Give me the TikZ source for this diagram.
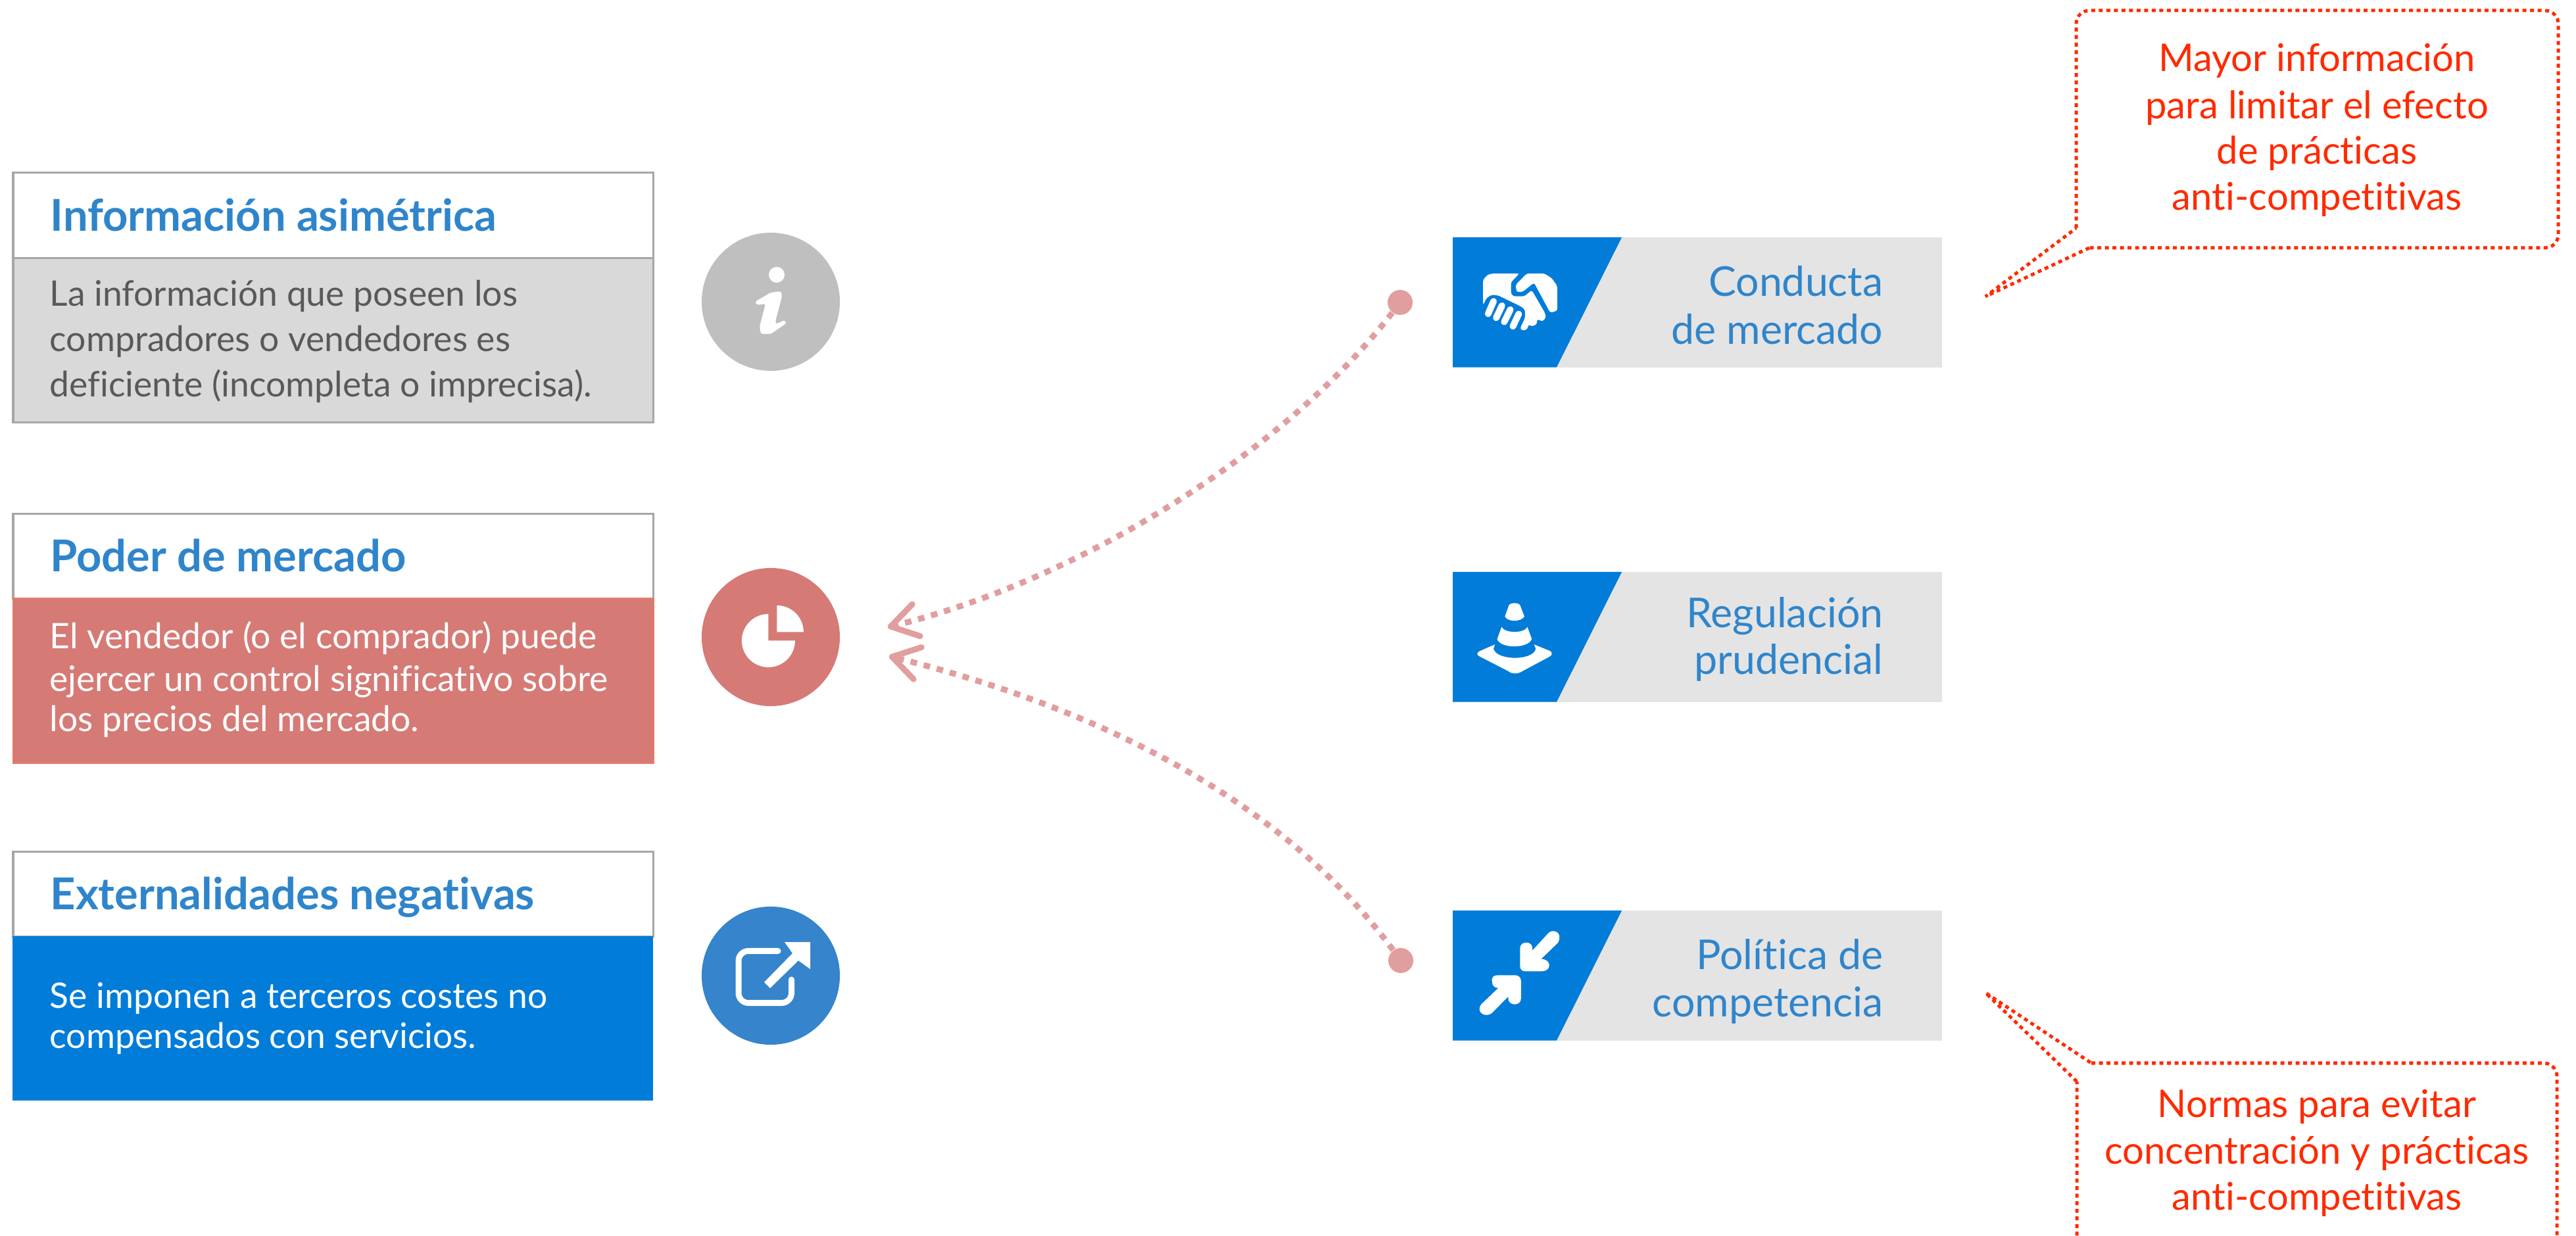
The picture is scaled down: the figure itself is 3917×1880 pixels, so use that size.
\documentclass[tikz,border=0pt]{standalone}
\usepackage{fontspec}
\usetikzlibrary{arrows.meta,calc}
\setmainfont{Lato}[Ligatures=NoCommon]
\definecolor{tblue}{HTML}{2F85CB}
\definecolor{bblue}{HTML}{027CD9}
\definecolor{cblue}{HTML}{3584CC}
\definecolor{cred}{HTML}{D67A76}
\definecolor{credline}{HTML}{E57C64}
\definecolor{cdot}{HTML}{E19E9E}
\definecolor{cgrey}{HTML}{BFBFBF}
\definecolor{bgrey}{HTML}{D9D9D9}
\definecolor{bline}{HTML}{A6A6A6}
\definecolor{rgrey}{HTML}{E4E4E4}
\definecolor{rtext}{HTML}{FF2A00}
\definecolor{gtext}{HTML}{595959}
\tikzset{
  headbox/.style={anchor=north west,inner sep=0,outer sep=0,minimum height=#1,minimum width=9.73cm},
  title/.style={anchor=base west,inner sep=0,text=tblue,font=\fontsize{19pt}{19pt}\selectfont\bfseries},
  body/.style={anchor=base west,inner sep=0,font=\fontsize{15.2pt}{15.2pt}\selectfont},
  circ/.style={circle,inner sep=0,minimum size=2.1cm,fill=#1},
  tagbox/.style={anchor=north west,inner sep=0,outer sep=0,minimum width=7.44cm,minimum height=1.975cm,fill=rgrey},
  tagtext/.style={anchor=base east,inner sep=0,text=tblue,font=\fontsize{17.8pt}{17.8pt}\selectfont},
  tagblue/.style={fill=bblue},
  enddot/.style={circle,inner sep=0,minimum size=0.38cm,fill=cdot},
  link/.style={draw=cdot,line width=0.09cm,dash pattern=on 0.10cm off 0.105cm,
    -{Straight Barb[length=0.40cm,width=0.50cm,line width=0.09cm,round]}},
  callout/.style={draw=rtext,line width=0.05cm,dash pattern=on 0.06cm off 0.055cm,line join=bevel},
  calltext/.style={anchor=base,inner sep=0,text=rtext,font=\fontsize{16.5pt}{16.5pt}\selectfont},
  icon/.style={fill=white,draw=none},
}
\begin{document}
\begin{tikzpicture}[x=0.01cm,y=-0.01cm]
\useasboundingbox (0,0) rectangle (3917,1880);

% left column: box 1
\node[headbox=1.30cm,fill=white,draw=bline,line width=0.03cm] (h1) at (20,263) {};
\node[headbox=2.49cm,fill=bgrey,draw=bline,line width=0.03cm] (b1) at (20,393) {};
\node[title] (t1) at (76,352) {Información asimétrica};
\node[body,text=gtext] (l11) at (75,466) {La información que poseen los};
\node[body,text=gtext] (l12) at (75,535) {compradores o vendedores es};
\node[body,text=gtext] (l13) at (75,604) {deficiente (incompleta o imprecisa).};

% left column: box 2
\node[headbox=1.28cm,fill=white,draw=bline,line width=0.03cm] (h2) at (20,782) {};
\node[headbox=2.51cm,fill=cred,draw=credline,line width=0.02cm] (b2) at (20,910) {};
\node[title] (t2) at (76,870) {Poder de mercado};
\node[body,text=white] (l21) at (75,987) {El vendedor (o el comprador) puede};
\node[body,text=white] (l22) at (75,1052) {ejercer un control significativo sobre};
\node[body,text=white] (l23) at (75,1113) {los precios del mercado.};

% left column: box 3
\node[headbox=1.28cm,fill=white,draw=bline,line width=0.03cm] (h3) at (20,1296) {};
\node[headbox=2.50cm,fill=bblue] (b3) at (19,1424) {};
\node[title] (t3) at (76,1384) {Externalidades negativas};
\node[body,text=white] (l31) at (75,1534) {Se imponen a terceros costes no};
\node[body,text=white] (l32) at (75,1595) {compensados con servicios.};

% circles
\node[circ=cgrey] (c1) at (1172,459) {};
\node[circ=cred] (c2) at (1172,969) {};
\node[circ=cblue] (c3) at (1172,1484) {};

% info icon
\fill[icon] (1181,418) circle (12);
\fill[icon,rounded corners=0.03cm] (1148,459) -- (1172,445) -- (1188,443) -- (1189,451) -- (1179,489) -- (1180,493) -- (1193,487) -- (1196,491.5) -- (1172,508) -- (1157,508) -- (1155,497) -- (1164,462) -- (1151,464) -- cycle;

% pie icon
\fill[icon] (1168.4,974.4) -- (1168.4,933.9) arc[start angle=-90,delta angle=-270,radius=40.5] -- cycle;
\fill[icon] (1181.4,961.4) -- (1181.4,920.9) arc[start angle=-90,delta angle=90,radius=40.5] -- cycle;

% external link icon
\draw[white,line width=0.09cm,line cap=round,rounded corners=0.15cm] (1183,1446.5) -- (1123,1446.5) -- (1123,1525.5) -- (1203.5,1525.5) -- (1203.5,1490);
\fill[icon] (1193,1433) -- (1232,1433) -- (1232,1474) -- (1214,1461) -- (1171,1503) -- (1162,1494) -- (1205,1450) -- cycle;

% right tags
\node[tagbox] (g1) at (2209,361) {};
\fill[tagblue] (g1.north west) -- ++(257,0) -- ($(g1.south west)+(158,0)$) -- (g1.south west) -- cycle;
\node[tagbox] (g2) at (2209,870) {};
\fill[tagblue] (g2.north west) -- ++(257,0) -- ($(g2.south west)+(158,0)$) -- (g2.south west) -- cycle;
\node[tagbox] (g3) at (2209,1385) {};
\fill[tagblue] (g3.north west) -- ++(257,0) -- ($(g3.south west)+(158,0)$) -- (g3.south west) -- cycle;

\node[tagtext] (a1) at (2864,451) {Conducta};
\node[tagtext] (a2) at (2864,524) {de mercado};
\node[tagtext] (a3) at (2864,955) {Regulación};
\node[tagtext] (a4) at (2864,1026) {prudencial};
\node[tagtext] (a5) at (2864,1475) {Política de};
\node[tagtext] (a6) at (2864,1547) {competencia};

% handshake icon (coordinates taken from the magnified view)
\begin{scope}[xshift=21.8cm,yshift=-3.4cm,x=0.0051020cm,y=-0.0033333cm]
\fill[icon,rounded corners=0.03cm] (145,255) -- (160,232) -- (175,228) -- (253,228) -- (228,268) -- (228,320) -- (235,332) -- (268,332) -- (290,304) -- (330,410) -- (332,430) -- (322,447) -- (306,436) -- (305,460) -- (290,470) -- (280,460) -- (278,480) -- (265,490) -- (255,480) -- (270,430) -- (270,395) -- (260,380) -- (190,328) -- (170,325) -- (155,340) -- (145,372) -- cycle;
\fill[icon,rounded corners=0.03cm] (275,228) -- (328,228) -- (350,250) -- (366,285) -- (366,398) -- (345,407) -- (297,270) -- (262,312) -- (245,312) -- (242,280) -- cycle;
\draw[white,line width=0.1cm,line cap=round] (176,355) -- (160,412) (201,375) -- (184,430) (226,393) -- (208,449) (251,413) -- (234,469);
\end{scope}

% cone icon
\begin{scope}[xshift=21.8cm,yshift=-8.5cm,x=0.0051020cm,y=-0.0033333cm]
\fill[icon] (222,210) .. controls (228,198) and (250,198) .. (255,210) -- (268,262) .. controls (258,288) and (218,288) .. (210,262) -- cycle;
\fill[icon] (200,310) .. controls (210,340) and (268,340) .. (277,310) -- (290,365) .. controls (280,410) and (195,410) .. (187,365) -- cycle;
\fill[icon] (180,390) -- (176,410) .. controls (185,465) and (295,465) .. (302,410) -- (297,390) -- (345,420) .. controls (352,428) and (352,440) .. (340,448) -- (262,512) .. controls (248,526) and (232,526) .. (220,512) -- (135,445) .. controls (125,438) and (125,428) .. (135,420) -- cycle;
\end{scope}

% converging arrows icon
\begin{scope}[xshift=21.8cm,yshift=-13.7cm,x=0.0051020cm,y=-0.0033333cm]
\fill[icon] (340,145) .. controls (352,125) and (385,140) .. (368,190) -- (318,264) .. controls (350,265) and (350,320) .. (320,320) -- (270,320) .. controls (260,320) and (255,310) .. (255,295) -- (255,215) .. controls (255,180) and (292,180) .. (292,215) -- (292,225) -- cycle;
\fill[icon] (172,370) .. controls (168,345) and (178,338) .. (190,338) -- (240,338) .. controls (250,338) and (258,348) .. (258,365) -- (258,445) .. controls (258,480) and (220,480) .. (220,445) -- (220,435) -- (172,510) .. controls (155,535) and (120,510) .. (140,470) -- (190,397) .. controls (178,395) and (172,385) .. (172,370) -- cycle;
\end{scope}

% connectors
\node[enddot] (d1) at (2129,460) {};
\node[enddot] (d2) at (2130,1461) {};
\coordinate (p1) at (1350,954);
\coordinate (p2) at (1352,998);
\draw[link] (d1) .. controls (1960,680) and (1650,880) .. (p1);
\draw[link] (d2) .. controls (1930,1190) and (1620,1065) .. (p2);

% callouts
\coordinate (k1) at (3019,451);
\coordinate (k2) at (3019,1510);
\draw[callout,rounded corners=0.2cm] (3157,347) -- (3157,16) -- (3890,16) -- (3890,377) -- (3177,377);
\draw[callout] (3177,377) -- (k1) -- (3157,347);
\draw[callout,rounded corners=0.2cm] (3180,1617) -- (3888,1617) -- (3888,1905) -- (3158,1905) -- (3158,1645);
\draw[callout] (3158,1645) -- (k2) -- (3180,1617);

\node[calltext] (m1) at (3523,109) {Mayor información};
\node[calltext] (m2) at (3523,181) {para limitar el efecto};
\node[calltext] (m3) at (3523,250) {de prácticas};
\node[calltext] (m4) at (3523,320) {anti-competitivas};
\node[calltext] (n1) at (3523,1699) {Normas para evitar};
\node[calltext] (n2) at (3523,1770) {concentración y prácticas};
\node[calltext] (n3) at (3523,1840) {anti-competitivas};
\end{tikzpicture}
\end{document}
